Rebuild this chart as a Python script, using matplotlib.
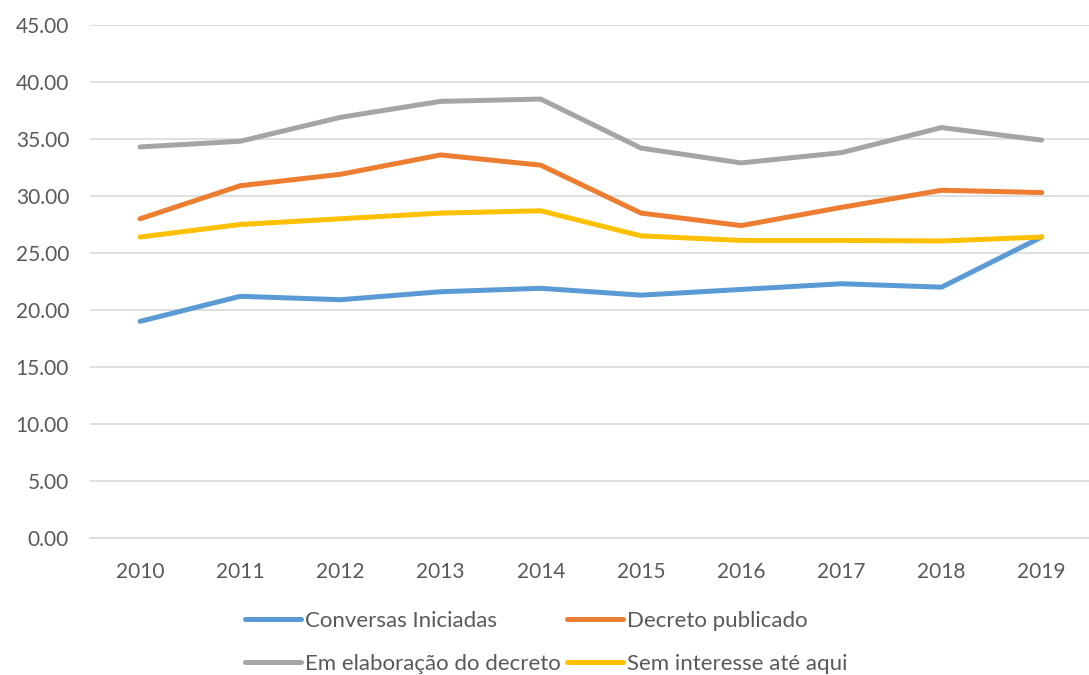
import matplotlib.pyplot as plt

years = ['2010', '2011', '2012', '2013', '2014', '2015', '2016', '2017', '2018', '2019']
conversas = [19.0, 21.2, 20.9, 21.6, 21.9, 21.3, 21.8, 22.3, 22.0, 26.4]
decreto_pub = [28.0, 30.9, 31.9, 33.6, 32.7, 28.5, 27.4, 29.0, 30.5, 30.3]
em_elaboracao = [34.3, 34.8, 36.9, 38.3, 38.5, 34.2, 32.9, 33.8, 36.0, 34.9]
sem_interesse = [26.4, 27.5, 28.0, 28.5, 28.7, 26.5, 26.1, 26.1, 26.05, 26.4]

series = [
    ('Conversas Iniciadas', conversas, '#5B9BD5'),
    ('Decreto publicado', decreto_pub, '#ED7D31'),
    ('Em elaboração do decreto', em_elaboracao, '#A5A5A5'),
    ('Sem interesse até aqui', sem_interesse, '#FFC000'),
]

plt.rcParams['font.family'] = ['Lato', 'DejaVu Sans']

fig = plt.figure(figsize=(10.89, 6.75), dpi=100)
ax = fig.add_axes([0.0826, 0.203, 0.92, 0.76])

x = list(range(len(years)))
lines = []
for label, vals, color in series:
    ln, = ax.plot(x, vals, color=color, lw=3.6, label=label, solid_capstyle='round')
    lines.append(ln)

ax.set_xlim(-0.5, 9.5)
ax.set_ylim(0, 45)
ax.set_yticks(range(0, 50, 5))
ax.set_yticklabels([f'{v:.2f}' for v in range(0, 50, 5)])
ax.set_xticks(x)
ax.set_xticklabels(years)
ax.grid(axis='y', color='#D9D9D9', lw=1.2)
ax.set_axisbelow(True)
for s in ['top', 'right', 'left']:
    ax.spines[s].set_visible(False)
ax.spines['bottom'].set_color('#D9D9D9')
ax.spines['bottom'].set_linewidth(1.2)
ax.tick_params(length=0, labelsize=15, colors='#595959')
ax.tick_params(axis='x', pad=17)
ax.tick_params(axis='y', pad=15)

# row-wise order like Excel
order = [0, 2, 1, 3]
fig.legend([lines[i] for i in order], [series[i][0] for i in order],
           loc='upper left', bbox_to_anchor=(0.225, 0.095), ncol=2, frameon=False,
           fontsize=16, handlelength=2.5, handletextpad=0.2, columnspacing=0.3,
           labelspacing=1.05, labelcolor='#595959', borderaxespad=0, borderpad=0)

plt.savefig('out.png', dpi=100)
